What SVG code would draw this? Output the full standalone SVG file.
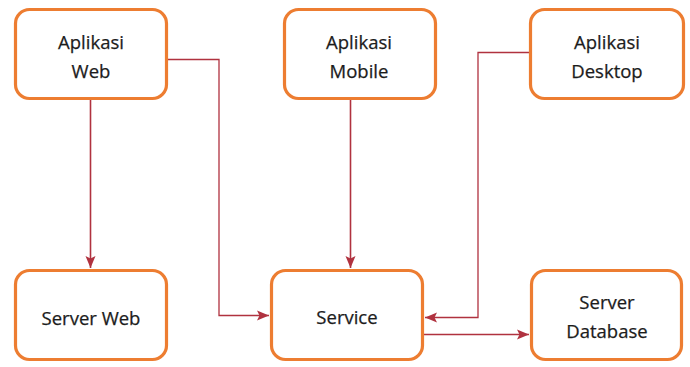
<svg xmlns="http://www.w3.org/2000/svg" width="690" height="367" viewBox="0 0 690 367">
  <defs>
    <style>
      .box { fill: #ffffff; stroke: #ED7D31; stroke-width: 3.2; }
      .label { font-family: "Open Sans", "Noto Sans", "Liberation Sans", sans-serif; font-size: 18.5px; fill: #1c1c1c; stroke: #1c1c1c; stroke-width: 0.25; text-anchor: middle; }
      .link { fill: none; stroke: #B0323F; stroke-width: 1.6; }
      .link.soft { stroke-width: 1.3; }
    </style>
    <marker id="arrow" markerUnits="userSpaceOnUse" markerWidth="13" markerHeight="11" refX="12" refY="5.5" orient="auto">
      <path d="M0,0.5 L12,5.5 L0,10.5 L2.5,5.5 Z" fill="#B0323F"/>
    </marker>
  </defs>

  <!-- connectors -->
  <g id="connectors">
    <path class="link" d="M90.5,100 V268" marker-end="url(#arrow)"/>
    <path class="link soft" d="M168,59.5 H219 V315.5 H269" marker-end="url(#arrow)"/>
    <path class="link" d="M350.5,100 V268" marker-end="url(#arrow)"/>
    <path class="link soft" d="M529,52.5 H478 V317.5 H425" marker-end="url(#arrow)"/>
    <path class="link" d="M424,334.5 H529" marker-end="url(#arrow)"/>
  </g>

  <!-- top row -->
  <g id="aplikasi-web">
    <rect class="box" x="15.5" y="9.5" width="151" height="89" rx="14"/>
    <text class="label" x="91" y="49">Aplikasi</text>
    <text class="label" x="91" y="78">Web</text>
  </g>
  <g id="aplikasi-mobile">
    <rect class="box" x="284.5" y="9.5" width="151" height="89" rx="14"/>
    <text class="label" x="359" y="49">Aplikasi</text>
    <text class="label" x="359" y="78">Mobile</text>
  </g>
  <g id="aplikasi-desktop">
    <rect class="box" x="530.5" y="9.5" width="153" height="89" rx="14"/>
    <text class="label" x="607" y="49">Aplikasi</text>
    <text class="label" x="607" y="78">Desktop</text>
  </g>

  <!-- bottom row -->
  <g id="server-web">
    <rect class="box" x="15.5" y="270.5" width="151" height="89" rx="14"/>
    <text class="label" x="91" y="325">Server Web</text>
  </g>
  <g id="service">
    <rect class="box" x="271.5" y="270.5" width="151" height="89" rx="14"/>
    <text class="label" x="347" y="324">Service</text>
  </g>
  <g id="server-database">
    <rect class="box" x="531.5" y="270.5" width="150" height="89" rx="14"/>
    <text class="label" x="607" y="309">Server</text>
    <text class="label" x="607" y="338">Database</text>
  </g>
</svg>
